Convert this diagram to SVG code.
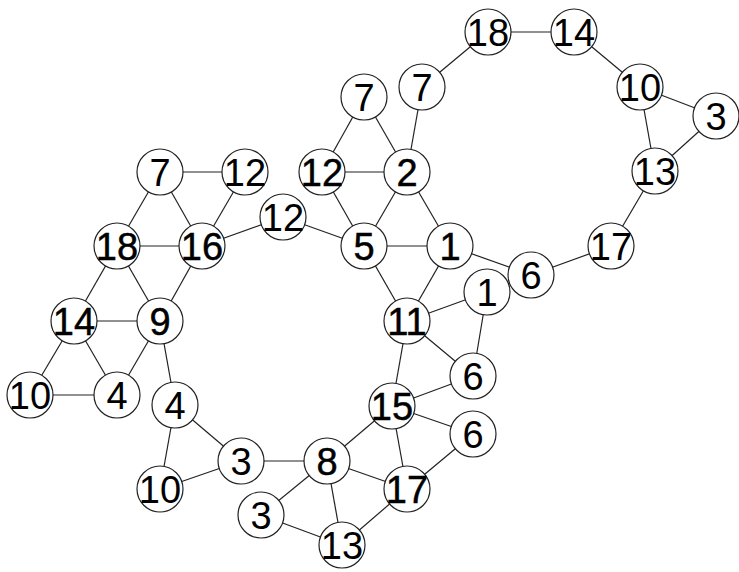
<svg xmlns="http://www.w3.org/2000/svg" width="739" height="572" viewBox="0 0 739 572">
<style>
.e line{stroke:#222;stroke-width:1.2}
.n circle{fill:#fff;stroke:#222;stroke-width:1.2}
.n text{font-family:"Liberation Sans",Arial,sans-serif;font-size:38px;text-anchor:middle;fill:#000}
.c text{stroke:#000;stroke-width:0.5}
</style>
<rect width="739" height="572" fill="#fff"/>
<g id="connectors" class="e">
<line x1="160" y1="172" x2="245" y2="172"/>
<line x1="160" y1="172" x2="117" y2="246"/>
<line x1="160" y1="172" x2="202" y2="246"/>
<line x1="245" y1="172" x2="202" y2="246"/>
<line x1="117" y1="246" x2="202" y2="246"/>
<line x1="202" y1="246" x2="283" y2="217"/>
<line x1="117" y1="246" x2="74" y2="321"/>
<line x1="117" y1="246" x2="160" y2="321"/>
<line x1="202" y1="246" x2="160" y2="321"/>
<line x1="74" y1="321" x2="160" y2="321"/>
<line x1="74" y1="321" x2="30" y2="395"/>
<line x1="74" y1="321" x2="117" y2="395"/>
<line x1="160" y1="321" x2="117" y2="395"/>
<line x1="30" y1="395" x2="117" y2="395"/>
<line x1="160" y1="321" x2="175" y2="405"/>
<line x1="175" y1="405" x2="241" y2="461"/>
<line x1="175" y1="405" x2="160" y2="489"/>
<line x1="160" y1="489" x2="241" y2="461"/>
<line x1="241" y1="461" x2="327" y2="461"/>
<line x1="327" y1="461" x2="261" y2="515"/>
<line x1="327" y1="461" x2="342" y2="545"/>
<line x1="261" y1="515" x2="342" y2="545"/>
<line x1="342" y1="545" x2="407" y2="489"/>
<line x1="327" y1="461" x2="407" y2="489"/>
<line x1="327" y1="461" x2="392" y2="406"/>
<line x1="392" y1="406" x2="407" y2="489"/>
<line x1="392" y1="406" x2="473" y2="434"/>
<line x1="473" y1="434" x2="407" y2="489"/>
<line x1="392" y1="406" x2="473" y2="376"/>
<line x1="392" y1="406" x2="407" y2="321"/>
<line x1="407" y1="321" x2="473" y2="376"/>
<line x1="407" y1="321" x2="487" y2="292"/>
<line x1="487" y1="292" x2="473" y2="376"/>
<line x1="407" y1="321" x2="364" y2="246"/>
<line x1="407" y1="321" x2="450" y2="246"/>
<line x1="364" y1="246" x2="450" y2="246"/>
<line x1="450" y1="246" x2="531" y2="275"/>
<line x1="531" y1="275" x2="611" y2="246"/>
<line x1="611" y1="246" x2="655" y2="171"/>
<line x1="655" y1="171" x2="640" y2="87"/>
<line x1="655" y1="171" x2="716" y2="116"/>
<line x1="640" y1="87" x2="716" y2="116"/>
<line x1="640" y1="87" x2="574" y2="32"/>
<line x1="574" y1="32" x2="488" y2="32"/>
<line x1="488" y1="32" x2="422" y2="87"/>
<line x1="422" y1="87" x2="407" y2="172"/>
<line x1="407" y1="172" x2="322" y2="172"/>
<line x1="407" y1="172" x2="364" y2="97"/>
<line x1="322" y1="172" x2="364" y2="97"/>
<line x1="322" y1="172" x2="364" y2="246"/>
<line x1="407" y1="172" x2="364" y2="246"/>
<line x1="407" y1="172" x2="450" y2="246"/>
<line x1="283" y1="217" x2="364" y2="246"/>
</g>
<g id="n-7a" class="n"><circle cx="160" cy="172" r="23"/><text x="160" y="185.5">7</text></g>
<g id="n-12a" class="n"><circle cx="245" cy="172" r="23"/><text x="245" y="185.5">12</text></g>
<g id="n-18a" class="n c"><circle cx="117" cy="246" r="23"/><text x="117" y="259.5">18</text></g>
<g id="n-16" class="n c"><circle cx="202" cy="246" r="23"/><text x="202" y="259.5">16</text></g>
<g id="n-12b" class="n"><circle cx="283" cy="217" r="23"/><text x="283" y="230.5">12</text></g>
<g id="n-14a" class="n c"><circle cx="74" cy="321" r="23"/><text x="74" y="334.5">14</text></g>
<g id="n-9" class="n c"><circle cx="160" cy="321" r="23"/><text x="160" y="334.5">9</text></g>
<g id="n-10a" class="n"><circle cx="30" cy="395" r="23"/><text x="30" y="408.5">10</text></g>
<g id="n-4a" class="n"><circle cx="117" cy="395" r="23"/><text x="117" y="408.5">4</text></g>
<g id="n-4b" class="n"><circle cx="175" cy="405" r="23"/><text x="175" y="418.5">4</text></g>
<g id="n-3a" class="n"><circle cx="241" cy="461" r="23"/><text x="241" y="474.5">3</text></g>
<g id="n-10b" class="n"><circle cx="160" cy="489" r="23"/><text x="160" y="502.5">10</text></g>
<g id="n-8" class="n c"><circle cx="327" cy="461" r="23"/><text x="327" y="474.5">8</text></g>
<g id="n-3b" class="n"><circle cx="261" cy="515" r="23"/><text x="261" y="528.5">3</text></g>
<g id="n-13a" class="n"><circle cx="342" cy="545" r="23"/><text x="342" y="558.5">13</text></g>
<g id="n-17a" class="n c"><circle cx="407" cy="489" r="23"/><text x="407" y="502.5">17</text></g>
<g id="n-6a" class="n"><circle cx="473" cy="434" r="23"/><text x="473" y="447.5">6</text></g>
<g id="n-15" class="n c"><circle cx="392" cy="406" r="23"/><text x="392" y="419.5">15</text></g>
<g id="n-6b" class="n"><circle cx="473" cy="376" r="23"/><text x="473" y="389.5">6</text></g>
<g id="n-11" class="n c"><circle cx="407" cy="321" r="23"/><text x="407" y="334.5">11</text></g>
<g id="n-1a" class="n"><circle cx="487" cy="292" r="23"/><text x="487" y="305.5">1</text></g>
<g id="n-6c" class="n"><circle cx="531" cy="275" r="23"/><text x="531" y="288.5">6</text></g>
<g id="n-17b" class="n"><circle cx="611" cy="246" r="23"/><text x="611" y="259.5">17</text></g>
<g id="n-13b" class="n"><circle cx="655" cy="171" r="23"/><text x="655" y="184.5">13</text></g>
<g id="n-3c" class="n"><circle cx="716" cy="116" r="23"/><text x="716" y="129.5">3</text></g>
<g id="n-10c" class="n"><circle cx="640" cy="87" r="23"/><text x="640" y="100.5">10</text></g>
<g id="n-14b" class="n"><circle cx="574" cy="32" r="23"/><text x="574" y="45.5">14</text></g>
<g id="n-18b" class="n"><circle cx="488" cy="32" r="23"/><text x="488" y="45.5">18</text></g>
<g id="n-7b" class="n"><circle cx="422" cy="87" r="23"/><text x="422" y="100.5">7</text></g>
<g id="n-7c" class="n"><circle cx="364" cy="97" r="23"/><text x="364" y="110.5">7</text></g>
<g id="n-12c" class="n c"><circle cx="322" cy="172" r="23"/><text x="322" y="185.5">12</text></g>
<g id="n-2" class="n c"><circle cx="407" cy="172" r="23"/><text x="407" y="185.5">2</text></g>
<g id="n-5" class="n c"><circle cx="364" cy="246" r="23"/><text x="364" y="259.5">5</text></g>
<g id="n-1b" class="n c"><circle cx="450" cy="246" r="23"/><text x="450" y="259.5">1</text></g>
</svg>
